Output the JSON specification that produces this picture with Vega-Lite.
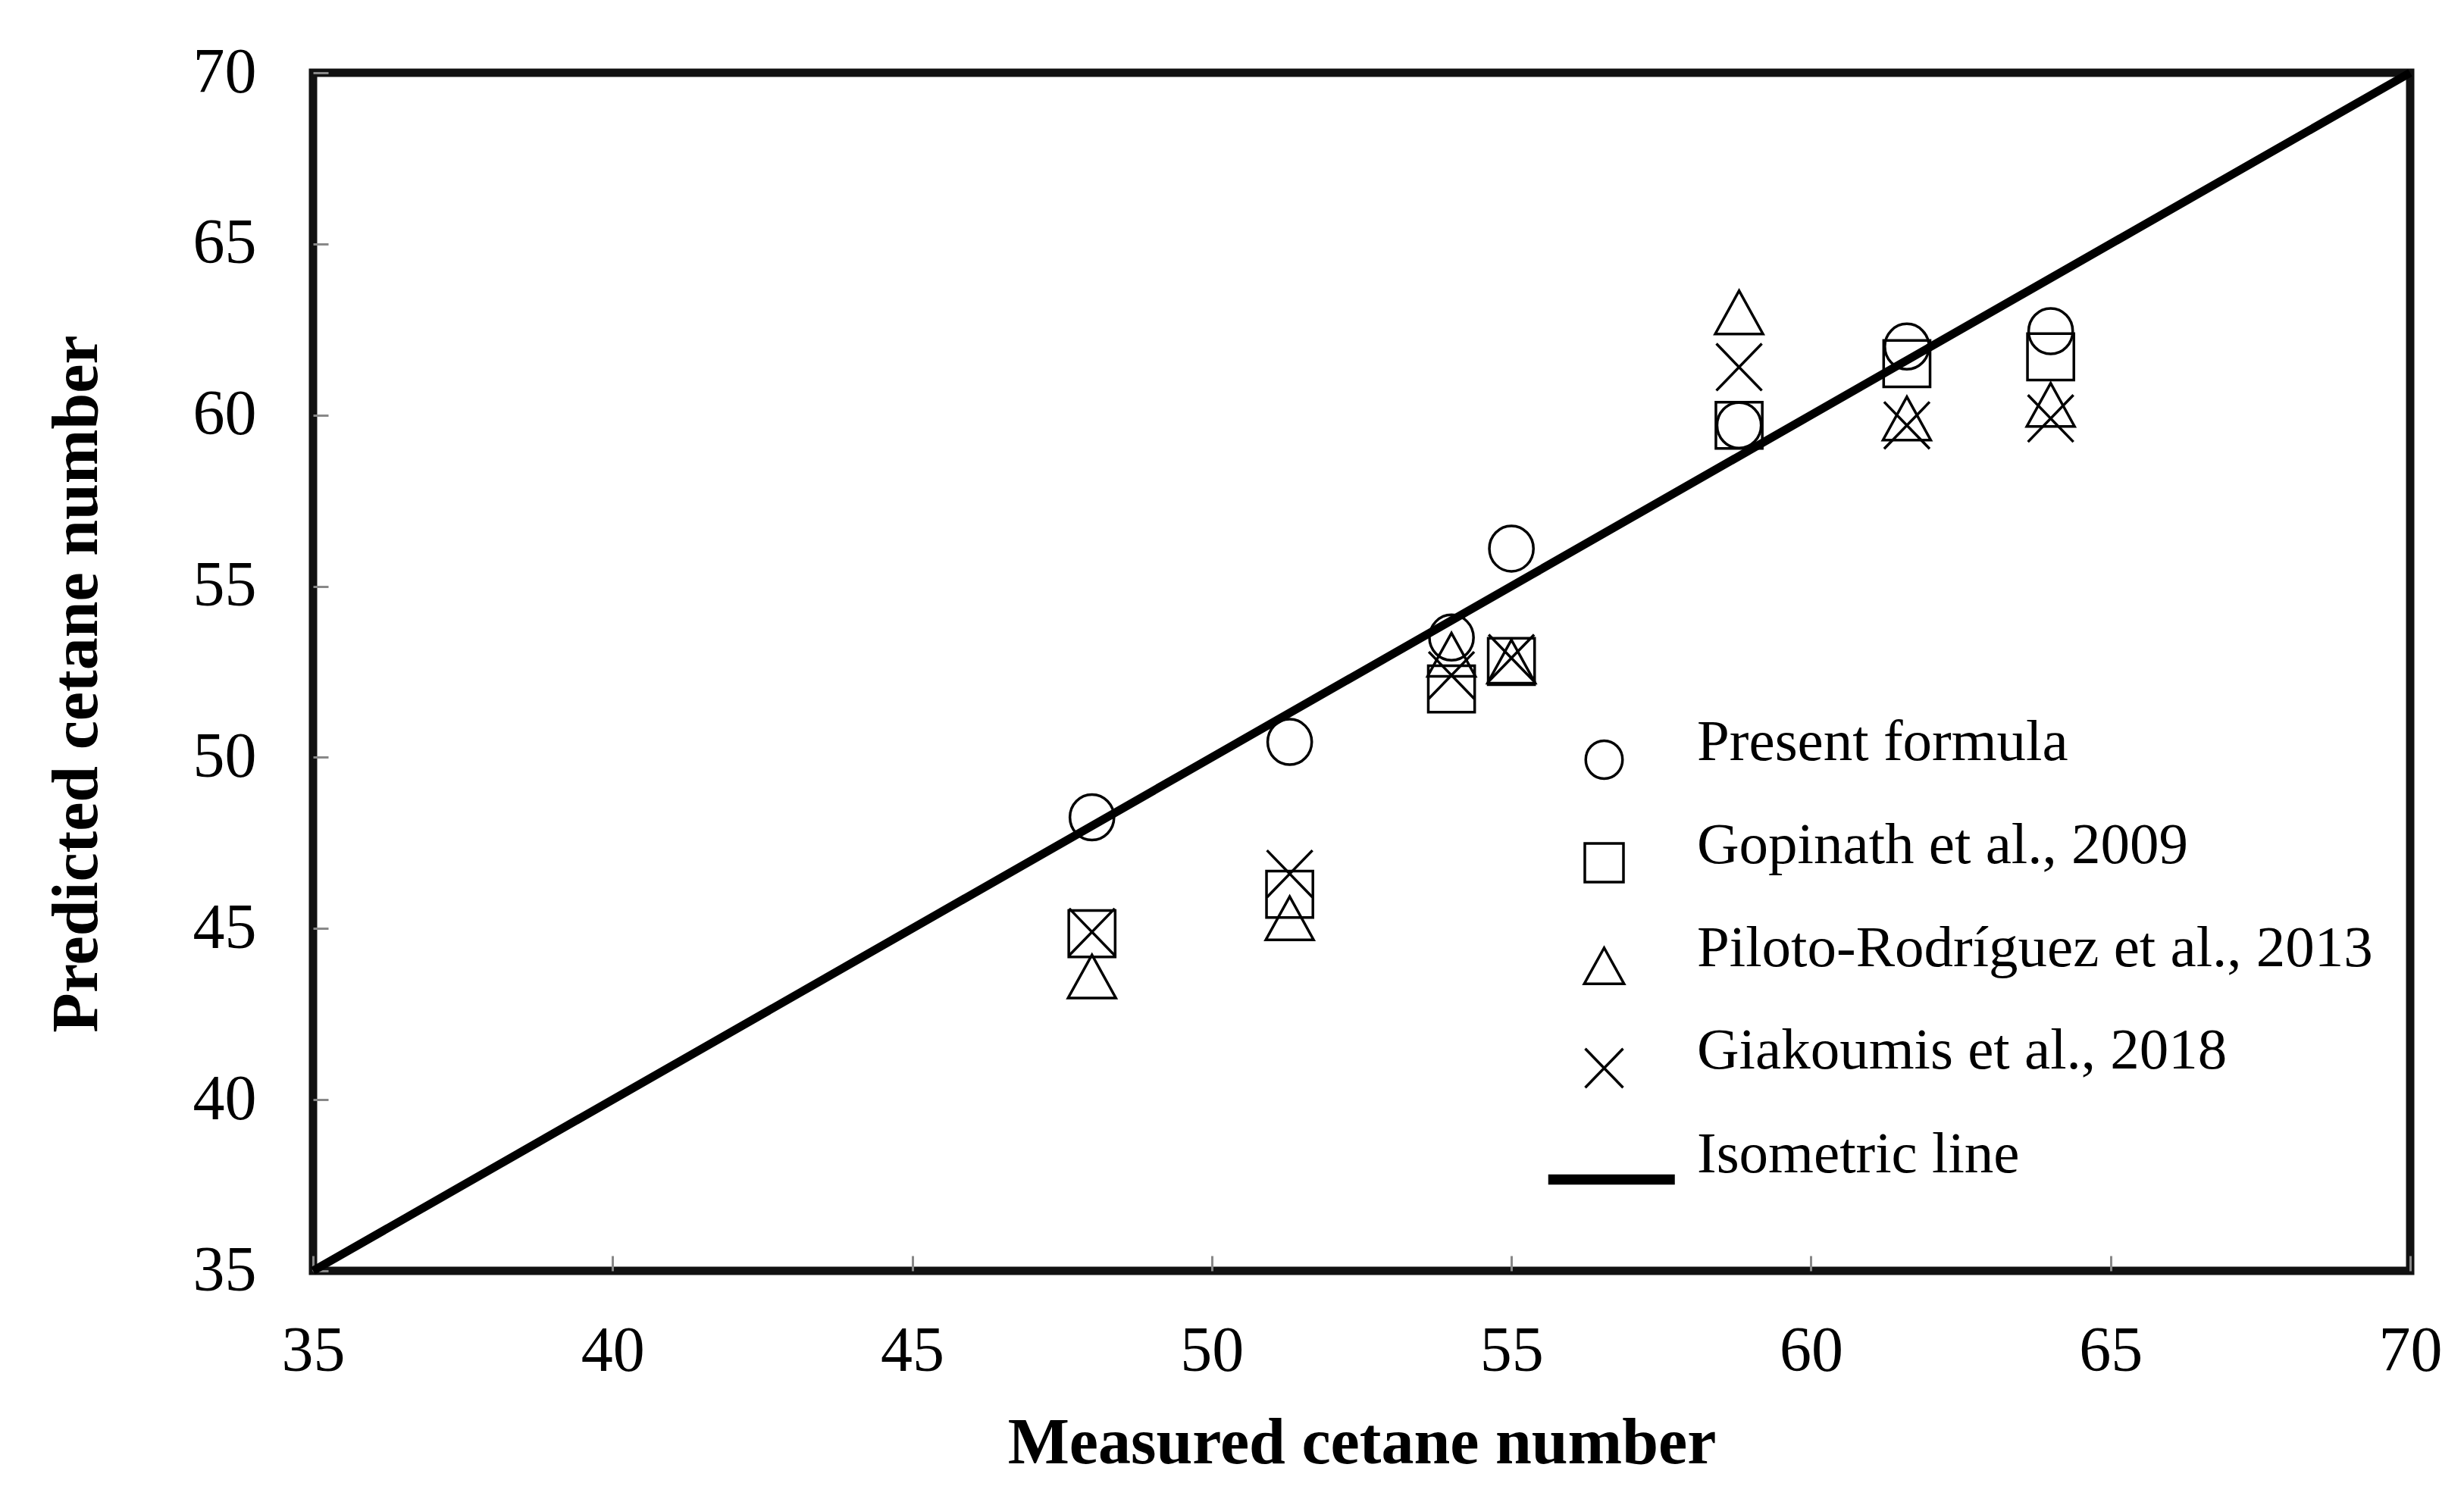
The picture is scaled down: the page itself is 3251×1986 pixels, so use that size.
{
  "$schema": "https://vega.github.io/schema/vega-lite/v6.json",
  "width": 2767,
  "height": 1581,
  "autosize": {"type": "none"},
  "padding": {"left": 413, "top": 96, "right": 71, "bottom": 309},
  "background": "white",
  "config": {
    "view": {"stroke": "#111111", "strokeWidth": 11},
    "axis": {
      "domain": false,
      "grid": false,
      "tickSize": -20,
      "tickColor": "#888888",
      "tickWidth": 3,
      "labelFont": "Liberation Serif",
      "labelFontSize": 84,
      "labelColor": "#000000",
      "labelFlush": false,
      "labelOverlap": false,
      "titleFont": "Liberation Serif",
      "titleFontSize": 86,
      "titleFontWeight": "bold",
      "titleColor": "#000000"
    },
    "legend": {
      "orient": "none",
      "legendX": 1665,
      "legendY": 868,
      "padding": 0,
      "labelFont": "Liberation Serif",
      "labelFontSize": 77,
      "labelColor": "#000000",
      "labelLimit": 3000,
      "labelOffset": 84,
      "labelBaseline": "alphabetic",
      "symbolSize": 2500,
      "symbolStrokeWidth": 3.5,
      "symbolStrokeColor": "#000000",
      "rowPadding": 41
    }
  },
  "encoding": {
    "x": {
      "field": "measured",
      "type": "quantitative",
      "scale": {"domain": [35, 70], "nice": false, "zero": false},
      "axis": {
        "title": "Measured cetane number",
        "values": [35, 40, 45, 50, 55, 60, 65, 70],
        "labelPadding": 85,
        "titleBaseline": "alphabetic",
        "titleY": 253
      }
    },
    "y": {
      "field": "predicted",
      "type": "quantitative",
      "scale": {"domain": [35, 70], "nice": false, "zero": false},
      "axis": {
        "title": "Predicted cetane number",
        "values": [35, 40, 45, 50, 55, 60, 65, 70],
        "labelPadding": 95,
        "titleAngle": -90,
        "titleAlign": "center",
        "titleBaseline": "alphabetic",
        "titleX": -286,
        "titleY": 806
      }
    }
  },
  "layer": [
    {
      "data": {"values": [{"measured": 35, "predicted": 35}, {"measured": 70, "predicted": 70}]},
      "mark": {"type": "line", "color": "#000000", "strokeWidth": 11},
      "encoding": {}
    },
    {
      "data": {
        "values": [
          {"measured": 48.0, "predicted": 48.25, "series": "Present formula"},
          {"measured": 51.3, "predicted": 50.45, "series": "Present formula"},
          {"measured": 54.0, "predicted": 53.5, "series": "Present formula"},
          {"measured": 55.0, "predicted": 56.1, "series": "Present formula"},
          {"measured": 58.8, "predicted": 59.7, "series": "Present formula"},
          {"measured": 61.6, "predicted": 62.0, "series": "Present formula"},
          {"measured": 64.0, "predicted": 62.45, "series": "Present formula"},
          {"measured": 48.0, "predicted": 44.85, "series": "Gopinath et al., 2009"},
          {"measured": 51.3, "predicted": 46.0, "series": "Gopinath et al., 2009"},
          {"measured": 54.0, "predicted": 52.0, "series": "Gopinath et al., 2009"},
          {"measured": 55.0, "predicted": 52.8, "series": "Gopinath et al., 2009"},
          {"measured": 58.8, "predicted": 59.7, "series": "Gopinath et al., 2009"},
          {"measured": 61.6, "predicted": 61.5, "series": "Gopinath et al., 2009"},
          {"measured": 64.0, "predicted": 61.7, "series": "Gopinath et al., 2009"},
          {"measured": 48.0, "predicted": 43.6, "series": "Piloto-Rodríguez et al., 2013"},
          {"measured": 51.3, "predicted": 45.3, "series": "Piloto-Rodríguez et al., 2013"},
          {"measured": 54.0, "predicted": 53.0, "series": "Piloto-Rodríguez et al., 2013"},
          {"measured": 55.0, "predicted": 52.8, "series": "Piloto-Rodríguez et al., 2013"},
          {"measured": 58.8, "predicted": 63.0, "series": "Piloto-Rodríguez et al., 2013"},
          {"measured": 61.6, "predicted": 59.9, "series": "Piloto-Rodríguez et al., 2013"},
          {"measured": 64.0, "predicted": 60.3, "series": "Piloto-Rodríguez et al., 2013"},
          {"measured": 48.0, "predicted": 44.9, "series": "Giakoumis et al., 2018"},
          {"measured": 51.3, "predicted": 46.6, "series": "Giakoumis et al., 2018"},
          {"measured": 54.0, "predicted": 52.4, "series": "Giakoumis et al., 2018"},
          {"measured": 55.0, "predicted": 52.9, "series": "Giakoumis et al., 2018"},
          {"measured": 58.8, "predicted": 61.4, "series": "Giakoumis et al., 2018"},
          {"measured": 61.6, "predicted": 59.7, "series": "Giakoumis et al., 2018"},
          {"measured": 64.0, "predicted": 59.9, "series": "Giakoumis et al., 2018"}
        ]
      },
      "mark": {"type": "point", "filled": false, "color": "#000000", "strokeWidth": 3.5, "size": 3600, "opacity": 1},
      "encoding": {
        "shape": {
          "field": "series",
          "type": "nominal",
          "scale": {
            "domain": ["Present formula", "Gopinath et al., 2009", "Piloto-Rodríguez et al., 2013", "Giakoumis et al., 2018", "Isometric line"],
            "range": [
              "M0.97,0A0.97,1 0 1,1 -0.97,0A0.97,1 0 1,1 0.97,0Z",
              "M-1.02,-1.02L1.02,-1.02L1.02,1.02L-1.02,1.02Z",
              "M-1.05,0.95L1.05,0.95L0,-0.95Z",
              "M-1,-1.03L1,1.03M-1,1.03L1,-1.03",
              "M-2.95,0.2L3.73,0.2M-2.95,0.28L3.73,0.28M-2.95,0.36L3.73,0.36M-2.95,0.44L3.73,0.44M-2.95,0.52L3.73,0.52M-2.95,0.6L3.73,0.6"
            ]
          },
          "legend": {"title": null}
        }
      }
    }
  ]
}
